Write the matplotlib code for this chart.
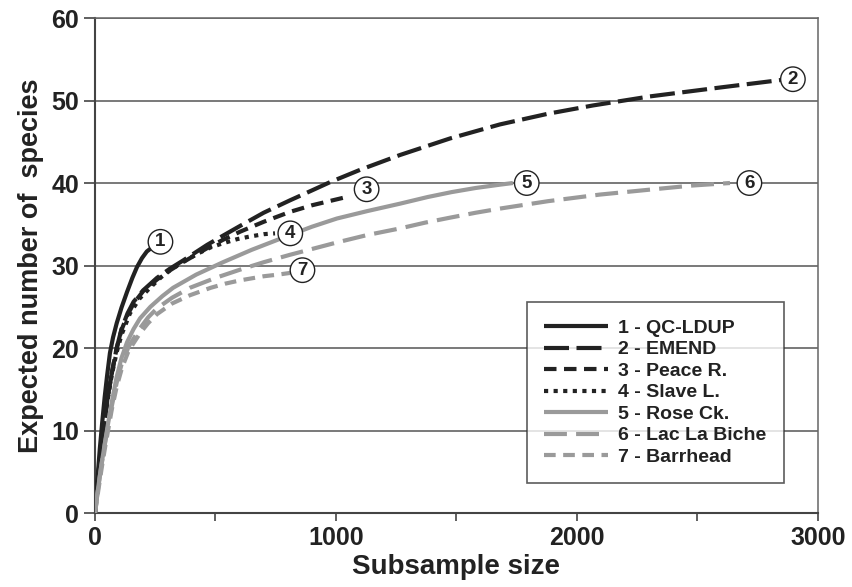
import matplotlib
matplotlib.use("Agg")
from matplotlib import pyplot as plt

plt.rcParams['font.family'] = ['Liberation Sans', 'DejaVu Sans']
plt.rcParams['font.weight'] = 'bold'

names = ["1 - QC-LDUP", "2 - EMEND", "3 - Peace R.", "4 - Slave L.",
         "5 - Rose Ck.", "6 - Lac La Biche", "7 - Barrhead"]

# rarefaction curves (subsample size, expected species)
x1 = [0, 5, 10, 20, 30, 40, 50, 62, 75, 90, 110, 133, 155, 174, 195, 215, 237]
y1 = [0, 2, 4, 7.8, 11, 14, 16.6, 19.4, 21.3, 23, 24.9, 26.8, 28.5, 29.8,
      30.9, 31.7, 32.2]

x2 = [0, 10, 20, 35, 50, 70, 90, 110, 135, 160, 200, 257, 310, 365, 465, 530,
      602, 700, 809, 900, 975, 1100, 1266, 1473, 1680, 1880, 2066, 2303, 2600,
      2850]
y2 = [0, 3.5, 6.5, 10, 13.5, 17, 20, 22.3, 24.2, 25.6, 27, 28.5, 29.6, 30.6,
      32.5, 33.6, 34.8, 36.4, 37.9, 39.1, 40.1, 41.6, 43.4, 45.4, 47.1, 48.4,
      49.4, 50.5, 51.6, 52.5]

x3 = [0, 10, 20, 35, 50, 70, 90, 110, 135, 160, 200, 257, 310, 365, 465, 530,
      602, 700, 809, 900, 1000, 1058]
y3 = [0, 3.5, 6.5, 10, 13.5, 17, 20, 22.2, 24, 25.4, 26.9, 28.3, 29.4, 30.4,
      32.1, 33.1, 34.1, 35.3, 36.5, 37.3, 38.0, 38.4]

x4 = [0, 10, 20, 35, 50, 70, 90, 110, 145, 185, 228, 275, 324, 380, 430, 480,
      531, 590, 640, 700, 747]
y4 = [0, 3.5, 6.5, 10, 13.3, 16.8, 19.5, 21.6, 24.2, 26, 27.3, 28.6, 29.7,
      30.7, 31.5, 32.2, 32.7, 33.2, 33.5, 33.8, 33.9]

x5 = [0, 12, 25, 40, 54, 70, 90, 110, 133, 160, 187, 230, 280, 324, 420, 531,
      650, 809, 900, 1004, 1130, 1266, 1380, 1480, 1580, 1680, 1734]
y5 = [0, 2.8, 5.5, 8.3, 10.8, 13.5, 16.5, 18.8, 20.7, 22.3, 23.6, 25, 26.3,
      27.3, 28.9, 30.4, 31.9, 33.7, 34.7, 35.7, 36.6, 37.5, 38.3, 38.9, 39.4,
      39.8, 40.0]

x6 = [0, 12, 25, 40, 54, 70, 90, 110, 140, 187, 220, 257, 320, 394, 500, 602,
      700, 809, 900, 1004, 1130, 1266, 1370, 1473, 1580, 1680, 1880, 2095, 2303,
      2480, 2635]
y6 = [0, 2.8, 5.5, 8.2, 10.5, 13, 15.8, 18, 20.2, 22.4, 23.7, 24.8, 26.1, 27.3,
      28.5, 29.5, 30.4, 31.3, 32, 32.8, 33.7, 34.5, 35.2, 35.8, 36.4, 36.9,
      37.8, 38.6, 39.2, 39.7, 40.0]

x7 = [0, 14, 28, 42, 56, 70, 90, 112, 140, 187, 220, 257, 320, 394, 480, 540,
      602, 700, 760, 809]
y7 = [0, 2.8, 5.5, 8, 10.3, 12.6, 15.3, 17.6, 19.7, 21.8, 23, 24.1, 25.4, 26.4,
      27.3, 27.8, 28.2, 28.7, 28.9, 29.1]

xs = [x1, x2, x3, x4, x5, x6, x7]
ys = [y1, y2, y3, y4, y5, y6, y7]

black = '#222222'
grey = '#9a9a9a'
styles = [
    dict(color=black, ls='-'),
    dict(color=black, dashes=(6, 1.8)),
    dict(color=black, dashes=(3, 1.8)),
    dict(color=black, dashes=(1, 1.3)),
    dict(color=grey, ls='-'),
    dict(color=grey, dashes=(5.5, 2.2)),
    dict(color=grey, dashes=(2.8, 1.8)),
]
# circle label offsets from curve end, in points
offsets = [(6, 4), (8, 0.5), (12, 5), (11, 0), (10, 0), (14, 0), (9, 2)]

fig = plt.figure(figsize=(8.52, 5.87), dpi=100)
ax = fig.add_axes([0.1115, 0.126, 0.8485, 0.8433])

for i in range(7):
    ax.plot(xs[i], ys[i], lw=3, label=names[i], solid_capstyle='butt',
            dash_capstyle='butt', solid_joinstyle='round', zorder=3, **styles[i])
    ax.annotate(str(i + 1), (xs[i][-1], ys[i][-1]), xytext=offsets[i],
                textcoords='offset points', ha='center', va='center',
                fontsize=13.5, fontweight='bold', color=black, zorder=5,
                bbox=dict(boxstyle='circle,pad=0.2', fc='white', ec=black, lw=1))

ax.set_xlim(0, 3000)
ax.set_ylim(0, 60)
ax.set_xticks([0, 1000, 2000, 3000])
ax.set_xticks([500, 1500, 2500], minor=True)
ax.set_yticks(range(0, 61, 10))
ax.yaxis.grid(True, color='#555555', lw=1.1)
ax.set_axisbelow(True)
ax.tick_params(axis='both', which='major', labelsize=18, color='#444444')
ax.tick_params(axis='y', length=8, width=1.2)
ax.tick_params(axis='x', which='both', length=6, width=1.2, color='#444444')
for s in ['left', 'bottom']:
    ax.spines[s].set_color('#444444')
    ax.spines[s].set_linewidth(1.5)
for s in ['right', 'top']:
    ax.spines[s].set_color('#666666')
    ax.spines[s].set_linewidth(1.1)

ax.set_xlabel('Subsample size', fontsize=20, fontweight='bold', labelpad=3,
              color=black)
ax.set_ylabel('Expected number of  species', fontsize=19.5, fontweight='bold',
              labelpad=5, color=black)
for t in ax.get_xticklabels() + ax.get_yticklabels():
    t.set_color(black)
    t.set_fontweight('bold')

leg = ax.legend(loc='lower right', bbox_to_anchor=(0.953, 0.06), fontsize=14,
                handlelength=3.3, labelspacing=0.2, handletextpad=0.5,
                borderpad=0.9, frameon=True, fancybox=False, borderaxespad=0)
leg.get_frame().set_edgecolor('#333333')
leg.get_frame().set_linewidth(1.2)
for t in leg.get_texts():
    t.set_color(black)
    t.set_fontweight('bold')

plt.savefig("out.png", dpi=100)
plt.close()
